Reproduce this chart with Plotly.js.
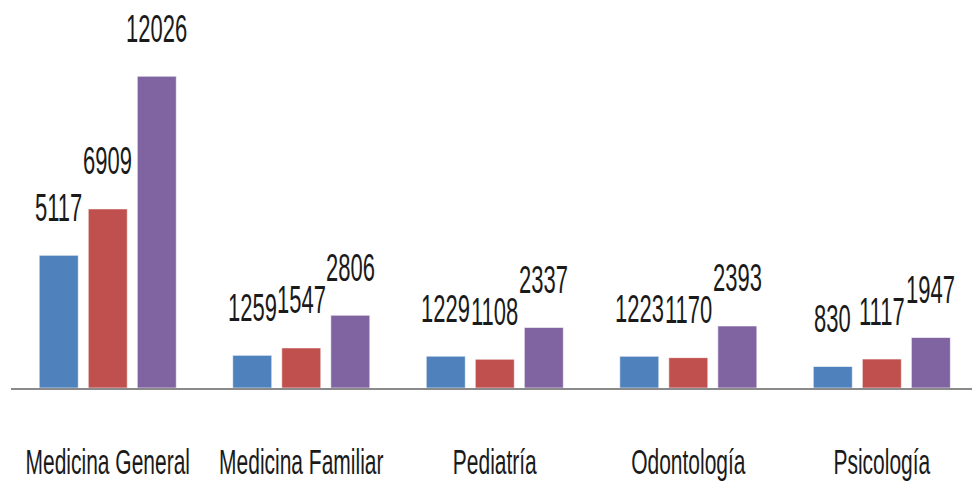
<!DOCTYPE html>
<html>
<head>
<meta charset="utf-8">
<script src="https://cdn.plot.ly/plotly-3.0.1.min.js"></script>
<style>
  html, body { margin: 0; padding: 0; background: #fff; }
  #chart { width: 972px; height: 485px; }
  .annotation-text {
    transform-box: fill-box;
    transform-origin: center;
    transform: scaleY(1.75);
  }
  .xaxislayer-above {
    transform-box: fill-box;
    transform-origin: center;
    transform: scaleY(1.7);
  }
</style>
</head>
<body>
<div id="chart"></div>
<script>
const categories = ["Medicina General", "Medicina Familiar", "Pediatría", "Odontología", "Psicología"];
const serie1 = [5117, 1259, 1229, 1223, 830];
const serie2 = [6909, 1547, 1108, 1170, 1117];
const serie3 = [12026, 2806, 2337, 2393, 1947];
const seriesNames = ["Serie 1", "Serie 2", "Serie 3"];
const colors = ["#4F81BD", "#C0504D", "#8064A2"];

const FONT = "'Liberation Sans Narrow', 'Arial Narrow', 'Liberation Sans', sans-serif";
const bargap = 0.24;
const allSeries = [serie1, serie2, serie3];

const traces = allSeries.map((vals, k) => ({
  type: "bar",
  name: seriesNames[k],
  x: categories.map((c, i) => i),
  y: vals,
  marker: { color: colors[k], line: { color: "rgba(255,255,255,0.6)", width: 1 } },
  hoverinfo: "y"
}));

const slot = (1 - bargap) / 3;
const annotations = [];
allSeries.forEach((vals, k) => {
  vals.forEach((v, i) => {
    annotations.push({
      x: i + (k - 1) * slot,
      y: v,
      xref: "x",
      yref: "y",
      text: String(v),
      showarrow: false,
      yanchor: "middle",
      xanchor: "center",
      yshift: 47,
      font: { family: FONT, size: 22, color: "#1a1a1a" }
    });
  });
});

const layout = {
  width: 972,
  height: 485,
  margin: { l: 11, r: 0, t: 51, b: 97 },
  paper_bgcolor: "#ffffff",
  plot_bgcolor: "#ffffff",
  showlegend: false,
  barmode: "group",
  bargap: bargap,
  bargroupgap: 0.204,
  font: { family: FONT, size: 21, color: "#1a1a1a" },
  xaxis: {
    range: [-0.5, 4.466],
    tickmode: "array",
    tickvals: categories.map((c, i) => i),
    ticktext: categories,
    showline: true,
    linecolor: "#8a8a8a",
    linewidth: 1.5,
    ticks: "",
    ticklabelstandoff: 54,
    showgrid: false,
    zeroline: false,
    tickfont: { family: FONT, size: 21, color: "#1a1a1a" }
  },
  yaxis: {
    range: [0, 13000],
    visible: false,
    showgrid: false,
    zeroline: false
  },
  annotations: annotations
};

Plotly.newPlot("chart", traces, layout, { displayModeBar: false, staticPlot: true });
</script>
</body>
</html>
